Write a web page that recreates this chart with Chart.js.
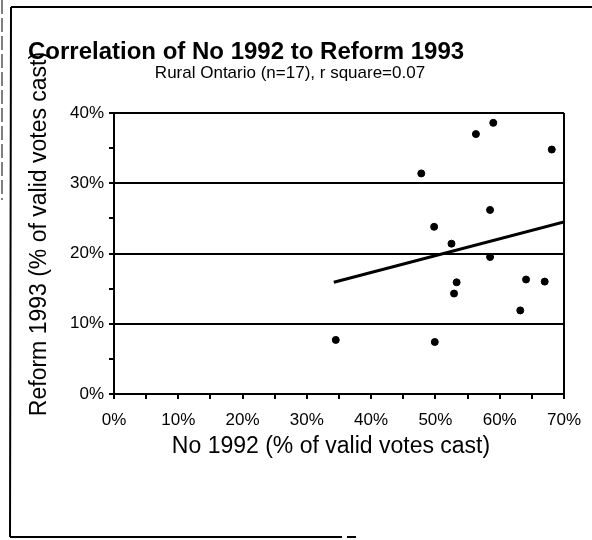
<!DOCTYPE html>
<html>
<head>
<meta charset="utf-8">
<script src="https://cdn.jsdelivr.net/npm/chart.js@4"></script>
<style>
  body { margin: 0; background: #fff; }
  canvas { display: block; }
</style>
</head>
<body>
<canvas id="chart" width="592" height="540"></canvas>
<script>
// No 1992 vs Reform 1993, rural Ontario ridings (% of valid votes)
const noVote = [59.0, 56.3, 68.1, 47.8, 58.5, 49.8, 52.5, 58.5, 53.3, 64.1, 67.0, 52.9, 63.2, 34.5, 49.9];
const reformVote = [38.6, 37.0, 34.8, 31.4, 26.2, 23.8, 21.4, 19.5, 15.9, 16.3, 16.0, 14.3, 11.9, 7.7, 7.4];

// trend line end points as drawn
const trendX = [34.2, 70];
const trendY = [15.9, 24.5];

const xTicks = [0, 10, 20, 30, 40, 50, 60, 70];
const yTicks = [0, 10, 20, 30, 40];

const FONT = '"Liberation Sans", Arial, sans-serif';

// titles and the scanned frame lines
const decor = {
  id: 'decor',
  afterDraw(chart) {
    const ctx = chart.ctx;
    ctx.save();
    ctx.fillStyle = '#000';
    ctx.textBaseline = 'middle';

    ctx.font = 'bold 24px ' + FONT;
    ctx.textAlign = 'left';
    ctx.fillText('Correlation of No 1992 to Reform 1993', 28, 52);

    ctx.font = '17px ' + FONT;
    ctx.textAlign = 'center';
    ctx.fillText('Rural Ontario (n=17), r square=0.07', 290, 73);

    ctx.font = '23px ' + FONT;
    ctx.fillText('No 1992 (% of valid votes cast)', 331, 447);

    ctx.save();
    ctx.translate(40, 234);
    ctx.rotate(-Math.PI / 2);
    ctx.fillText('Reform 1993 (% of valid votes cast)', 0, 0);
    ctx.restore();

    ctx.strokeStyle = '#000';
    ctx.lineWidth = 2;
    ctx.beginPath();
    ctx.moveTo(11, 7); ctx.lineTo(592, 7);
    ctx.moveTo(11, 7); ctx.lineTo(10, 537);
    ctx.moveTo(10, 537); ctx.lineTo(342, 537);
    ctx.moveTo(347, 537); ctx.lineTo(356, 537);
    ctx.stroke();

    ctx.lineWidth = 1;
    ctx.setLineDash([14, 4]);
    ctx.beginPath();
    ctx.moveTo(2, 0); ctx.lineTo(2, 200);
    ctx.stroke();
    ctx.restore();
  }
};

new Chart(document.getElementById('chart'), {
  type: 'scatter',
  data: {
    datasets: [
      {
        label: 'Ridings',
        data: noVote.map((x, i) => ({ x: x, y: reformVote[i] })),
        backgroundColor: '#000',
        borderColor: '#000',
        pointRadius: 3.5,
        pointHoverRadius: 3.5
      },
      {
        type: 'line',
        label: 'Trend',
        data: trendX.map((x, i) => ({ x: x, y: trendY[i] })),
        borderColor: '#000',
        borderWidth: 3,
        pointRadius: 0,
        fill: false
      }
    ]
  },
  options: {
    responsive: false,
    animation: false,
    layout: { padding: { top: 113, right: 27, bottom: 0, left: 0 } },
    plugins: {
      legend: { display: false },
      tooltip: { enabled: false }
    },
    scales: {
      x: {
        type: 'linear',
        min: 0,
        max: 70,
        afterFit: (s) => { s.height = 146; },
        border: { color: '#000', width: 2 },
        grid: {
          drawOnChartArea: true,
          color: (c) => (c.tick && c.tick.value === 70 ? '#000' : 'rgba(0,0,0,0)'),
          tickColor: '#000',
          tickLength: 5,
          lineWidth: 2
        },
        ticks: {
          stepSize: 5,
          autoSkip: false,
          maxRotation: 0,
          minRotation: 0,
          color: '#000',
          padding: 11,
          font: { family: FONT, size: 17 },
          callback: (v) => (xTicks.includes(v) ? v + '%' : '')
        }
      },
      y: {
        min: 0,
        max: 40,
        afterFit: (s) => { s.width = 114; },
        border: { color: '#000', width: 2 },
        grid: {
          color: (c) => (c.tick && yTicks.includes(c.tick.value) ? '#000' : 'rgba(0,0,0,0)'),
          tickColor: '#000',
          tickLength: 5,
          lineWidth: 2
        },
        ticks: {
          stepSize: 5,
          color: '#000',
          padding: 5,
          font: { family: FONT, size: 17 },
          callback: (v) => (yTicks.includes(v) ? v + '%' : '')
        }
      }
    }
  },
  plugins: [decor]
});
</script>
</body>
</html>
